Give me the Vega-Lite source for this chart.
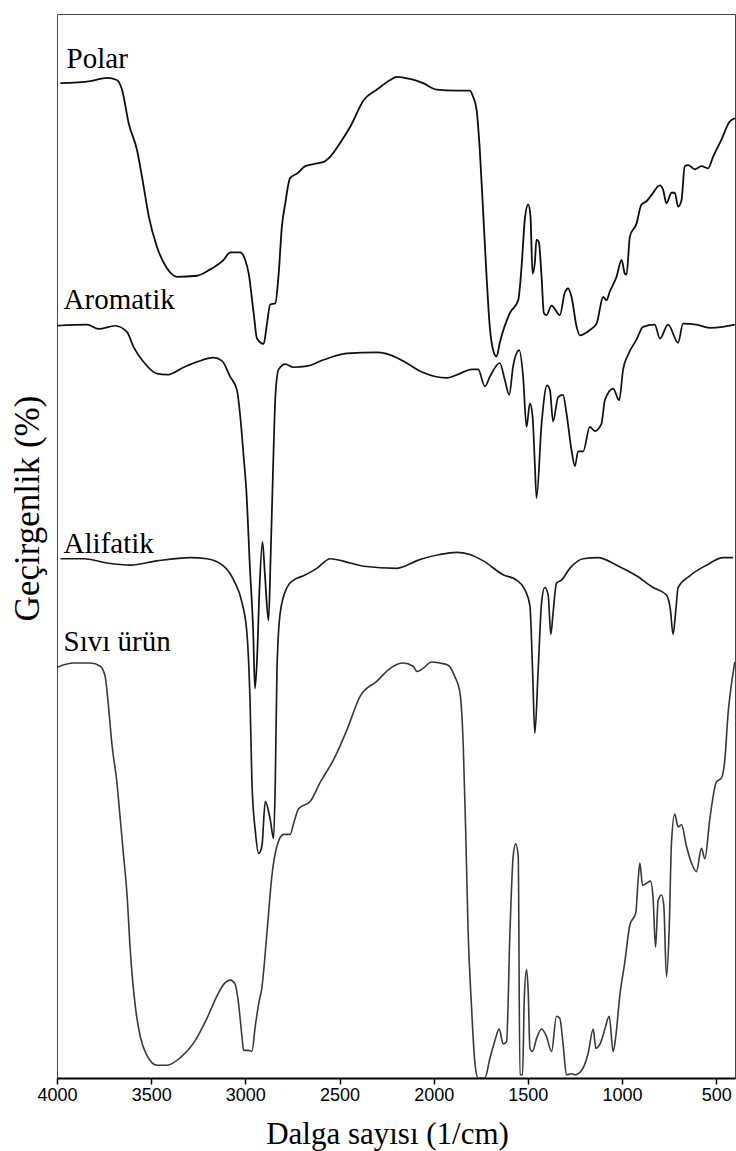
{
  "$schema": "https://vega.github.io/schema/vega-lite/v6.json",
  "width": 678,
  "height": 1064,
  "autosize": "none",
  "padding": {"left": 57, "top": 14, "right": 1, "bottom": 73},
  "background": "white",
  "config": {
    "view": {"stroke": "#444", "strokeWidth": 1},
    "font": "Liberation Serif"
  },
  "datasets": {
    "spectra": [
      {"s":"Polar","w":3982,"t":93.5},{"s":"Polar","w":3823,"t":93.7},{"s":"Polar","w":3735,"t":94.0},{"s":"Polar","w":3682,"t":93.8},{"s":"Polar","w":3655,"t":92.9},{"s":"Polar","w":3619,"t":89.7},{"s":"Polar","w":3575,"t":87.2},{"s":"Polar","w":3540,"t":83.8},{"s":"Polar","w":3513,"t":81.0},{"s":"Polar","w":3469,"t":78.1},{"s":"Polar","w":3416,"t":76.1},{"s":"Polar","w":3363,"t":75.3},{"s":"Polar","w":3257,"t":75.4},{"s":"Polar","w":3186,"t":76.0},{"s":"Polar","w":3115,"t":76.9},{"s":"Polar","w":3080,"t":77.6},{"s":"Polar","w":3027,"t":77.6},{"s":"Polar","w":3001,"t":76.9},{"s":"Polar","w":2982,"t":75.6},{"s":"Polar","w":2956,"t":71.9},{"s":"Polar","w":2938,"t":69.5},{"s":"Polar","w":2903,"t":69.0},{"s":"Polar","w":2885,"t":70.9},{"s":"Polar","w":2868,"t":72.7},{"s":"Polar","w":2841,"t":72.8},{"s":"Polar","w":2823,"t":75.6},{"s":"Polar","w":2806,"t":80.0},{"s":"Polar","w":2788,"t":82.2},{"s":"Polar","w":2762,"t":84.6},{"s":"Polar","w":2726,"t":85.0},{"s":"Polar","w":2682,"t":85.7},{"s":"Polar","w":2637,"t":85.9},{"s":"Polar","w":2584,"t":86.1},{"s":"Polar","w":2549,"t":86.6},{"s":"Polar","w":2496,"t":87.9},{"s":"Polar","w":2443,"t":89.4},{"s":"Polar","w":2372,"t":91.9},{"s":"Polar","w":2301,"t":92.9},{"s":"Polar","w":2231,"t":93.8},{"s":"Polar","w":2195,"t":94.1},{"s":"Polar","w":2126,"t":93.9},{"s":"Polar","w":2056,"t":93.5},{"s":"Polar","w":1985,"t":92.9},{"s":"Polar","w":1878,"t":92.8},{"s":"Polar","w":1808,"t":92.8},{"s":"Polar","w":1790,"t":92.2},{"s":"Polar","w":1772,"t":91.0},{"s":"Polar","w":1755,"t":87.2},{"s":"Polar","w":1737,"t":81.3},{"s":"Polar","w":1719,"t":75.3},{"s":"Polar","w":1702,"t":70.6},{"s":"Polar","w":1684,"t":68.4},{"s":"Polar","w":1666,"t":67.8},{"s":"Polar","w":1649,"t":69.1},{"s":"Polar","w":1595,"t":71.9},{"s":"Polar","w":1551,"t":73.1},{"s":"Polar","w":1533,"t":76.3},{"s":"Polar","w":1516,"t":80.7},{"s":"Polar","w":1498,"t":82.1},{"s":"Polar","w":1486,"t":81.0},{"s":"Polar","w":1475,"t":75.6},{"s":"Polar","w":1463,"t":76.6},{"s":"Polar","w":1454,"t":78.8},{"s":"Polar","w":1442,"t":78.6},{"s":"Polar","w":1427,"t":75.3},{"s":"Polar","w":1415,"t":71.9},{"s":"Polar","w":1401,"t":71.7},{"s":"Polar","w":1374,"t":72.6},{"s":"Polar","w":1330,"t":71.7},{"s":"Polar","w":1304,"t":73.8},{"s":"Polar","w":1286,"t":74.2},{"s":"Polar","w":1268,"t":73.4},{"s":"Polar","w":1241,"t":70.6},{"s":"Polar","w":1224,"t":69.8},{"s":"Polar","w":1171,"t":70.3},{"s":"Polar","w":1135,"t":70.9},{"s":"Polar","w":1100,"t":73.4},{"s":"Polar","w":1082,"t":73.1},{"s":"Polar","w":1065,"t":73.9},{"s":"Polar","w":1029,"t":75.3},{"s":"Polar","w":1002,"t":76.9},{"s":"Polar","w":985,"t":75.6},{"s":"Polar","w":976,"t":75.5},{"s":"Polar","w":958,"t":79.1},{"s":"Polar","w":923,"t":80.3},{"s":"Polar","w":897,"t":82.1},{"s":"Polar","w":870,"t":82.4},{"s":"Polar","w":843,"t":83.0},{"s":"Polar","w":799,"t":83.9},{"s":"Polar","w":782,"t":83.5},{"s":"Polar","w":764,"t":82.2},{"s":"Polar","w":737,"t":83.2},{"s":"Polar","w":720,"t":83.2},{"s":"Polar","w":702,"t":81.9},{"s":"Polar","w":684,"t":82.5},{"s":"Polar","w":667,"t":85.7},{"s":"Polar","w":649,"t":85.8},{"s":"Polar","w":613,"t":85.4},{"s":"Polar","w":578,"t":85.7},{"s":"Polar","w":543,"t":85.5},{"s":"Polar","w":516,"t":86.6},{"s":"Polar","w":472,"t":88.2},{"s":"Polar","w":428,"t":89.9},{"s":"Polar","w":401,"t":90.2},

      {"s":"Aromatik","w":4000,"t":70.7},{"s":"Aromatik","w":3841,"t":70.8},{"s":"Aromatik","w":3779,"t":70.4},{"s":"Aromatik","w":3691,"t":70.7},{"s":"Aromatik","w":3628,"t":70.1},{"s":"Aromatik","w":3593,"t":68.7},{"s":"Aromatik","w":3540,"t":67.3},{"s":"Aromatik","w":3469,"t":66.2},{"s":"Aromatik","w":3416,"t":66.1},{"s":"Aromatik","w":3327,"t":66.8},{"s":"Aromatik","w":3257,"t":67.3},{"s":"Aromatik","w":3168,"t":67.7},{"s":"Aromatik","w":3124,"t":67.4},{"s":"Aromatik","w":3080,"t":65.9},{"s":"Aromatik","w":3045,"t":64.7},{"s":"Aromatik","w":3027,"t":62.2},{"s":"Aromatik","w":3009,"t":58.4},{"s":"Aromatik","w":2995,"t":55.3},{"s":"Aromatik","w":2976,"t":48.1},{"s":"Aromatik","w":2958,"t":41.8},{"s":"Aromatik","w":2949,"t":36.6},{"s":"Aromatik","w":2938,"t":39.3},{"s":"Aromatik","w":2925,"t":45.9},{"s":"Aromatik","w":2909,"t":50.4},{"s":"Aromatik","w":2896,"t":47.3},{"s":"Aromatik","w":2877,"t":43.0},{"s":"Aromatik","w":2866,"t":48.7},{"s":"Aromatik","w":2853,"t":57.2},{"s":"Aromatik","w":2840,"t":64.2},{"s":"Aromatik","w":2823,"t":66.6},{"s":"Aromatik","w":2788,"t":67.1},{"s":"Aromatik","w":2744,"t":66.8},{"s":"Aromatik","w":2673,"t":66.9},{"s":"Aromatik","w":2584,"t":67.5},{"s":"Aromatik","w":2461,"t":68.1},{"s":"Aromatik","w":2301,"t":68.2},{"s":"Aromatik","w":2195,"t":67.7},{"s":"Aromatik","w":2144,"t":67.2},{"s":"Aromatik","w":2056,"t":66.3},{"s":"Aromatik","w":1931,"t":65.8},{"s":"Aromatik","w":1861,"t":66.2},{"s":"Aromatik","w":1799,"t":66.6},{"s":"Aromatik","w":1764,"t":66.6},{"s":"Aromatik","w":1728,"t":65.0},{"s":"Aromatik","w":1702,"t":65.9},{"s":"Aromatik","w":1649,"t":67.2},{"s":"Aromatik","w":1622,"t":65.6},{"s":"Aromatik","w":1599,"t":64.2},{"s":"Aromatik","w":1578,"t":66.9},{"s":"Aromatik","w":1546,"t":68.4},{"s":"Aromatik","w":1525,"t":65.9},{"s":"Aromatik","w":1507,"t":61.2},{"s":"Aromatik","w":1489,"t":63.4},{"s":"Aromatik","w":1475,"t":62.2},{"s":"Aromatik","w":1463,"t":57.8},{"s":"Aromatik","w":1454,"t":54.5},{"s":"Aromatik","w":1427,"t":61.5},{"s":"Aromatik","w":1398,"t":65.1},{"s":"Aromatik","w":1383,"t":64.7},{"s":"Aromatik","w":1366,"t":61.7},{"s":"Aromatik","w":1339,"t":64.0},{"s":"Aromatik","w":1313,"t":64.2},{"s":"Aromatik","w":1295,"t":62.5},{"s":"Aromatik","w":1268,"t":59.0},{"s":"Aromatik","w":1250,"t":57.5},{"s":"Aromatik","w":1233,"t":58.9},{"s":"Aromatik","w":1206,"t":58.9},{"s":"Aromatik","w":1171,"t":61.2},{"s":"Aromatik","w":1144,"t":60.8},{"s":"Aromatik","w":1109,"t":61.5},{"s":"Aromatik","w":1091,"t":63.7},{"s":"Aromatik","w":1047,"t":64.8},{"s":"Aromatik","w":1015,"t":63.7},{"s":"Aromatik","w":994,"t":66.6},{"s":"Aromatik","w":967,"t":68.0},{"s":"Aromatik","w":923,"t":69.4},{"s":"Aromatik","w":888,"t":70.6},{"s":"Aromatik","w":826,"t":70.8},{"s":"Aromatik","w":799,"t":69.5},{"s":"Aromatik","w":755,"t":70.8},{"s":"Aromatik","w":702,"t":69.1},{"s":"Aromatik","w":676,"t":70.9},{"s":"Aromatik","w":605,"t":70.8},{"s":"Aromatik","w":534,"t":70.5},{"s":"Aromatik","w":463,"t":70.6},{"s":"Aromatik","w":401,"t":70.8},

      {"s":"Alifatik","w":3982,"t":48.8},{"s":"Alifatik","w":3858,"t":48.8},{"s":"Alifatik","w":3735,"t":48.4},{"s":"Alifatik","w":3611,"t":48.2},{"s":"Alifatik","w":3469,"t":48.6},{"s":"Alifatik","w":3292,"t":48.9},{"s":"Alifatik","w":3204,"t":48.8},{"s":"Alifatik","w":3115,"t":48.1},{"s":"Alifatik","w":3062,"t":46.8},{"s":"Alifatik","w":3018,"t":44.7},{"s":"Alifatik","w":2992,"t":41.9},{"s":"Alifatik","w":2974,"t":34.8},{"s":"Alifatik","w":2965,"t":27.8},{"s":"Alifatik","w":2947,"t":23.2},{"s":"Alifatik","w":2929,"t":21.1},{"s":"Alifatik","w":2912,"t":21.8},{"s":"Alifatik","w":2894,"t":26.0},{"s":"Alifatik","w":2868,"t":24.3},{"s":"Alifatik","w":2850,"t":22.5},{"s":"Alifatik","w":2841,"t":27.8},{"s":"Alifatik","w":2832,"t":38.4},{"s":"Alifatik","w":2815,"t":43.7},{"s":"Alifatik","w":2779,"t":46.1},{"s":"Alifatik","w":2744,"t":46.8},{"s":"Alifatik","w":2691,"t":47.2},{"s":"Alifatik","w":2620,"t":47.9},{"s":"Alifatik","w":2549,"t":48.8},{"s":"Alifatik","w":2443,"t":48.4},{"s":"Alifatik","w":2372,"t":48.1},{"s":"Alifatik","w":2195,"t":47.9},{"s":"Alifatik","w":2153,"t":48.1},{"s":"Alifatik","w":2091,"t":48.6},{"s":"Alifatik","w":1967,"t":49.2},{"s":"Alifatik","w":1878,"t":49.4},{"s":"Alifatik","w":1808,"t":49.2},{"s":"Alifatik","w":1737,"t":48.6},{"s":"Alifatik","w":1631,"t":47.3},{"s":"Alifatik","w":1560,"t":46.8},{"s":"Alifatik","w":1516,"t":45.9},{"s":"Alifatik","w":1489,"t":44.4},{"s":"Alifatik","w":1475,"t":38.4},{"s":"Alifatik","w":1463,"t":32.4},{"s":"Alifatik","w":1445,"t":38.4},{"s":"Alifatik","w":1427,"t":44.7},{"s":"Alifatik","w":1410,"t":46.1},{"s":"Alifatik","w":1392,"t":45.4},{"s":"Alifatik","w":1378,"t":41.7},{"s":"Alifatik","w":1366,"t":43.7},{"s":"Alifatik","w":1348,"t":46.5},{"s":"Alifatik","w":1321,"t":46.8},{"s":"Alifatik","w":1277,"t":47.9},{"s":"Alifatik","w":1206,"t":48.8},{"s":"Alifatik","w":1127,"t":48.9},{"s":"Alifatik","w":1029,"t":48.2},{"s":"Alifatik","w":923,"t":47.2},{"s":"Alifatik","w":835,"t":46.1},{"s":"Alifatik","w":764,"t":45.4},{"s":"Alifatik","w":743,"t":44.0},{"s":"Alifatik","w":729,"t":41.7},{"s":"Alifatik","w":714,"t":44.0},{"s":"Alifatik","w":702,"t":46.1},{"s":"Alifatik","w":640,"t":47.2},{"s":"Alifatik","w":551,"t":48.2},{"s":"Alifatik","w":463,"t":48.9},{"s":"Alifatik","w":410,"t":48.9},

      {"s":"Sıvı ürün","w":4000,"t":38.6},{"s":"Sıvı ürün","w":3911,"t":39.0},{"s":"Sıvı ürün","w":3823,"t":39.0},{"s":"Sıvı ürün","w":3770,"t":38.7},{"s":"Sıvı ürün","w":3744,"t":37.7},{"s":"Sıvı ürün","w":3726,"t":34.8},{"s":"Sıvı ürün","w":3708,"t":31.3},{"s":"Sıvı ürün","w":3682,"t":27.8},{"s":"Sıvı ürün","w":3664,"t":24.3},{"s":"Sıvı ürün","w":3646,"t":20.8},{"s":"Sıvı ürün","w":3628,"t":17.2},{"s":"Sıvı ürün","w":3611,"t":12.0},{"s":"Sıvı ürün","w":3584,"t":6.7},{"s":"Sıvı ürün","w":3558,"t":3.9},{"s":"Sıvı ürün","w":3522,"t":2.1},{"s":"Sıvı ürün","w":3469,"t":1.2},{"s":"Sıvı ürün","w":3416,"t":1.2},{"s":"Sıvı ürün","w":3346,"t":1.9},{"s":"Sıvı ürün","w":3274,"t":3.3},{"s":"Sıvı ürün","w":3204,"t":5.6},{"s":"Sıvı ürün","w":3151,"t":7.7},{"s":"Sıvı ürün","w":3115,"t":8.8},{"s":"Sıvı ürün","w":3080,"t":9.2},{"s":"Sıvı ürün","w":3054,"t":8.8},{"s":"Sıvı ürün","w":3036,"t":7.0},{"s":"Sıvı ürün","w":3018,"t":3.9},{"s":"Sıvı ürün","w":3009,"t":2.6},{"s":"Sıvı ürün","w":2982,"t":2.6},{"s":"Sıvı ürün","w":2965,"t":2.5},{"s":"Sıvı ürün","w":2947,"t":4.9},{"s":"Sıvı ürün","w":2929,"t":7.0},{"s":"Sıvı ürün","w":2912,"t":8.5},{"s":"Sıvı ürün","w":2885,"t":13.7},{"s":"Sıvı ürün","w":2859,"t":19.0},{"s":"Sıvı ürün","w":2832,"t":21.8},{"s":"Sıvı ürün","w":2797,"t":22.9},{"s":"Sıvı ürün","w":2762,"t":22.9},{"s":"Sıvı ürün","w":2744,"t":23.9},{"s":"Sıvı ürün","w":2717,"t":25.3},{"s":"Sıvı ürün","w":2655,"t":26.0},{"s":"Sıvı ürün","w":2602,"t":27.8},{"s":"Sıvı ürün","w":2532,"t":29.9},{"s":"Sıvı ürün","w":2461,"t":32.7},{"s":"Sıvı ürün","w":2390,"t":35.9},{"s":"Sıvı ürün","w":2301,"t":37.3},{"s":"Sıvı ürün","w":2231,"t":38.5},{"s":"Sıvı ürün","w":2162,"t":39.0},{"s":"Sıvı ürün","w":2109,"t":38.7},{"s":"Sıvı ürün","w":2088,"t":38.2},{"s":"Sıvı ürün","w":2056,"t":38.5},{"s":"Sıvı ürün","w":2011,"t":39.1},{"s":"Sıvı ürün","w":1967,"t":39.0},{"s":"Sıvı ürün","w":1923,"t":38.8},{"s":"Sıvı ürün","w":1887,"t":37.7},{"s":"Sıvı ürün","w":1861,"t":36.3},{"s":"Sıvı ürün","w":1843,"t":31.3},{"s":"Sıvı ürün","w":1829,"t":22.5},{"s":"Sıvı ürün","w":1817,"t":13.7},{"s":"Sıvı ürün","w":1799,"t":6.7},{"s":"Sıvı ürün","w":1781,"t":1.4},{"s":"Sıvı ürün","w":1764,"t":0.0},{"s":"Sıvı ürün","w":1728,"t":0.0},{"s":"Sıvı ürün","w":1702,"t":1.8},{"s":"Sıvı ürün","w":1675,"t":3.5},{"s":"Sıvı ürün","w":1652,"t":4.6},{"s":"Sıvı ürün","w":1631,"t":3.2},{"s":"Sıvı ürün","w":1613,"t":3.4},{"s":"Sıvı ürün","w":1595,"t":13.7},{"s":"Sıvı ürün","w":1578,"t":20.8},{"s":"Sıvı ürün","w":1564,"t":22.0},{"s":"Sıvı ürün","w":1551,"t":20.8},{"s":"Sıvı ürün","w":1542,"t":0.3},{"s":"Sıvı ürün","w":1528,"t":0.3},{"s":"Sıvı ürün","w":1519,"t":7.4},{"s":"Sıvı ürün","w":1507,"t":10.2},{"s":"Sıvı ürün","w":1498,"t":8.1},{"s":"Sıvı ürün","w":1489,"t":2.8},{"s":"Sıvı ürün","w":1475,"t":2.5},{"s":"Sıvı ürün","w":1454,"t":3.7},{"s":"Sıvı ürün","w":1427,"t":4.6},{"s":"Sıvı ürün","w":1401,"t":3.9},{"s":"Sıvı ürün","w":1374,"t":2.5},{"s":"Sıvı ürün","w":1348,"t":5.8},{"s":"Sıvı ürün","w":1330,"t":5.6},{"s":"Sıvı ürün","w":1313,"t":3.2},{"s":"Sıvı ürün","w":1295,"t":0.3},{"s":"Sıvı ürün","w":1268,"t":0.4},{"s":"Sıvı ürün","w":1250,"t":0.3},{"s":"Sıvı ürün","w":1215,"t":0.7},{"s":"Sıvı ürün","w":1180,"t":2.3},{"s":"Sıvı ürün","w":1153,"t":4.6},{"s":"Sıvı ürün","w":1139,"t":2.8},{"s":"Sıvı ürün","w":1114,"t":3.3},{"s":"Sıvı ürün","w":1091,"t":4.6},{"s":"Sıvı ürün","w":1068,"t":5.8},{"s":"Sıvı ürün","w":1047,"t":2.5},{"s":"Sıvı ürün","w":1033,"t":3.9},{"s":"Sıvı ürün","w":1012,"t":7.7},{"s":"Sıvı ürün","w":985,"t":10.9},{"s":"Sıvı ürün","w":958,"t":14.4},{"s":"Sıvı ürün","w":927,"t":15.5},{"s":"Sıvı ürün","w":914,"t":18.7},{"s":"Sıvı ürün","w":905,"t":20.2},{"s":"Sıvı ürün","w":891,"t":18.1},{"s":"Sıvı ürün","w":870,"t":18.3},{"s":"Sıvı ürün","w":849,"t":18.5},{"s":"Sıvı ürün","w":835,"t":16.9},{"s":"Sıvı ürün","w":822,"t":12.3},{"s":"Sıvı ürün","w":808,"t":16.7},{"s":"Sıvı ürün","w":790,"t":17.2},{"s":"Sıvı ürün","w":778,"t":16.2},{"s":"Sıvı ürün","w":764,"t":9.5},{"s":"Sıvı ürün","w":750,"t":13.7},{"s":"Sıvı ürün","w":737,"t":22.2},{"s":"Sıvı ürün","w":720,"t":24.8},{"s":"Sıvı ürün","w":702,"t":23.6},{"s":"Sıvı ürün","w":684,"t":23.8},{"s":"Sıvı ürün","w":658,"t":21.8},{"s":"Sıvı ürün","w":631,"t":20.2},{"s":"Sıvı ürün","w":605,"t":19.4},{"s":"Sıvı ürün","w":578,"t":21.6},{"s":"Sıvı ürün","w":560,"t":20.6},{"s":"Sıvı ürün","w":534,"t":24.3},{"s":"Sıvı ürün","w":499,"t":27.8},{"s":"Sıvı ürün","w":472,"t":28.2},{"s":"Sıvı ürün","w":454,"t":29.9},{"s":"Sıvı ürün","w":437,"t":34.2},{"s":"Sıvı ürün","w":419,"t":37.0},{"s":"Sıvı ürün","w":401,"t":39.1}
    ],
    "labels": [
      {"name": "Polar", "w": 3949, "t": 94.9},
      {"name": "Aromatik", "w": 3965, "t": 72.3},
      {"name": "Alifatik", "w": 3965, "t": 49.3},
      {"name": "Sıvı ürün", "w": 3965, "t": 40.1}
    ]
  },
  "layer": [
    {
      "data": {"name": "spectra"},
      "mark": {"type": "line", "interpolate": "monotone", "strokeJoin": "round", "clip": true},
      "encoding": {
        "x": {
          "field": "w",
          "type": "quantitative",
          "scale": {"domain": [400, 4000], "reverse": true, "nice": false, "zero": false},
          "axis": {
            "title": "Dalga sayısı (1/cm)",
            "values": [4000, 3500, 3000, 2500, 2000, 1500, 1000, 500],
            "format": "d",
            "grid": false,
            "labelFlush": false,
            "labelFont": "Liberation Sans",
            "labelFontSize": 18,
            "labelColor": "#000",
            "labelPadding": 2,
            "tickColor": "#000",
            "tickSize": 6,
            "tickWidth": 1.5,
            "domainColor": "#000",
            "domainWidth": 2,
            "titleFont": "Liberation Serif",
            "titleFontSize": 31,
            "titleFontWeight": "normal",
            "titleColor": "#000",
            "titlePadding": 15,
            "titleX": 330
          }
        },
        "y": {
          "field": "t",
          "type": "quantitative",
          "scale": {"domain": [0, 100], "nice": false},
          "axis": {
            "title": "Geçirgenlik (%)",
            "labels": false,
            "ticks": false,
            "domain": false,
            "grid": false,
            "titleFont": "Liberation Serif",
            "titleFontSize": 35,
            "titleFontWeight": "normal",
            "titleColor": "#000",
            "titlePadding": 12,
            "titleY": 494
          }
        },
        "detail": {"field": "s"},
        "color": {
          "field": "s",
          "scale": {"domain": ["Polar", "Aromatik", "Alifatik", "Sıvı ürün"], "range": ["#0d0d0d", "#111111", "#1a1a1a", "#383838"]},
          "legend": null
        },
        "strokeWidth": {
          "field": "s",
          "scale": {"domain": ["Polar", "Aromatik", "Alifatik", "Sıvı ürün"], "range": [1.8, 1.6, 1.1, 2.4]},
          "legend": null
        }
      }
    },
    {
      "data": {"name": "labels"},
      "mark": {"type": "text", "align": "left", "baseline": "alphabetic", "font": "Liberation Serif", "fontSize": 29, "color": "#000"},
      "encoding": {
        "x": {"field": "w", "type": "quantitative"},
        "y": {"field": "t", "type": "quantitative"},
        "text": {"field": "name"}
      }
    }
  ]
}
